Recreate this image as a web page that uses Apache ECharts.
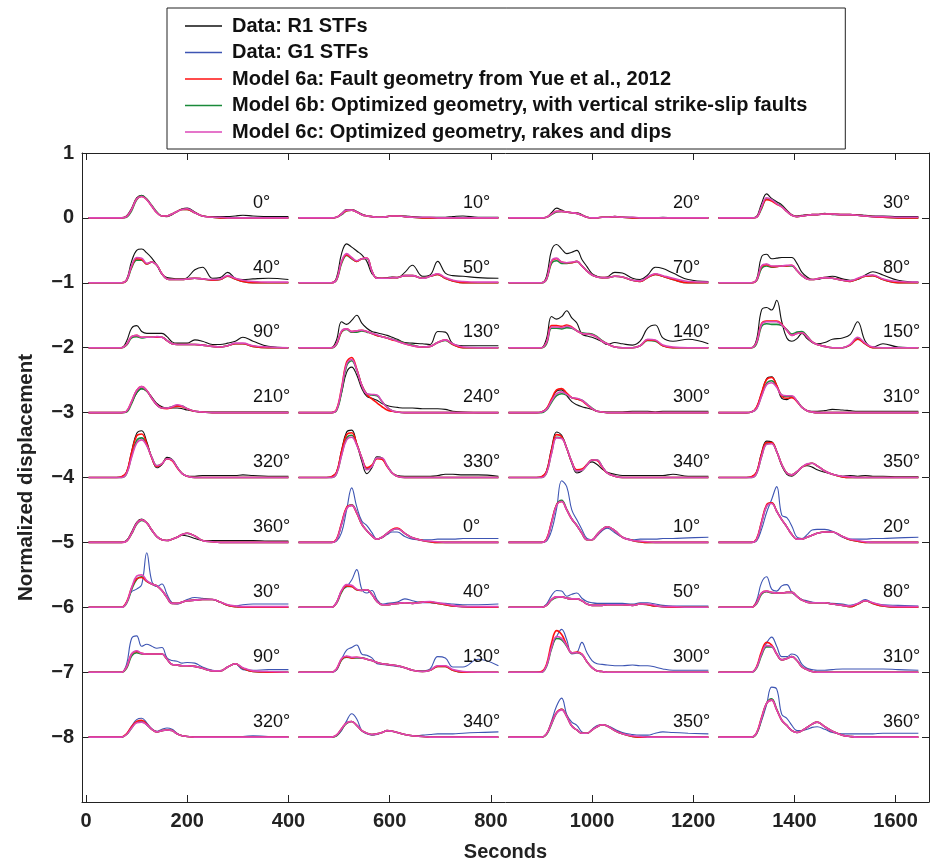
<!DOCTYPE html>
<html>
<head>
<meta charset="utf-8">
<title>STF comparison</title>
<script src="https://cdn.jsdelivr.net/npm/echarts@6.0.0/dist/echarts.min.js"></script>
<style>
  html, body { margin: 0; padding: 0; background: #fff; }
  #chart { width: 930px; height: 863px; }
</style>
</head>
<body>
<div id="chart"></div>
<script>
// relative time (s) inside each panel, shared by every trace
const seconds = [5, 60, 70, 80, 90, 100, 110, 120, 130, 140, 150, 160, 170, 180, 190, 200, 215, 230, 250, 265, 280, 295, 310, 330, 360, 400];
// panel offsets along the time axis and baselines for the rows
const colStart = [0, 415, 830, 1245];
const rowBase = [0, -1, -2, -3, -4, -5, -6, -7, -8];
const xTicks = [0, 200, 400, 600, 800, 1000, 1200, 1400, 1600];

// station azimuth of every panel, row by row
const azimuths = ['0°', '10°', '20°', '30°', '40°', '50°', '70°', '80°', '90°', '130°', '140°', '150°',
  '210°', '240°', '300°', '310°', '320°', '330°', '340°', '350°', '360°', '0°', '10°', '20°',
  '30°', '40°', '50°', '80°', '90°', '130°', '300°', '310°', '320°', '340°', '350°', '360°'];
// first 21 panels are R1 data, the rest are G1
const r1Count = 21;

// observed STFs (R1 then G1), one array per panel
const observed = [
  [0,0,0,0.03, 0.15,0.31,0.35,0.29,0.18,0.08,0.03,0.02,0.05,0.10,0.14,0.15, 0.09,0.03,0.02,0.02,0.02,0.03,0.04,0.03,0.02,0.02],
  [0,0,0,0.01, 0.07,0.13,0.13,0.10,0.06,0.03,0.02,0.01,0.01,0.02,0.03,0.03, 0.03,0.02,0.01,0.01,0.01,0.01,0.02,0.03,0.01,0.01],
  [0,0,0,0.01, 0.08,0.15,0.12,0.09,0.08,0.08,0.05,0.01,0,0,0.01,0.01, 0.02,0.01,0.01,0,0,0,0.01,0,0,0],
  [0,0,0,0.02, 0.22,0.37,0.30,0.25,0.20,0.12,0.05,0.03,0.04,0.05,0.05,0.05, 0.07,0.05,0.05,0.05,0.05,0.04,0.03,0.03,0.02,0.02],
  [0,0,0,0.05, 0.33,0.50,0.52,0.46,0.38,0.27,0.13,0.08,0.07,0.06,0.06,0.08, 0.20,0.24,0.07,0.08,0.16,0.07,0.05,0.06,0.07,0.05],
  [0,0,0,0.08, 0.45,0.60,0.55,0.49,0.43,0.33,0.14,0.08,0.07,0.08,0.09,0.08, 0.16,0.27,0.10,0.12,0.33,0.15,0.11,0.10,0.08,0.07],
  [0,0,0,0.10, 0.50,0.59,0.52,0.45,0.47,0.50,0.36,0.25,0.14,0.10,0.08,0.09, 0.16,0.15,0.07,0.05,0.12,0.24,0.22,0.15,0.05,0.02],
  [0,0,0,0.05, 0.40,0.44,0.37,0.38,0.39,0.39,0.39,0.30,0.16,0.09,0.05,0.05, 0.08,0.10,0.06,0.04,0.05,0.12,0.17,0.12,0.04,0.01],
  [0,0,0,0.10, 0.30,0.34,0.25,0.22,0.22,0.22,0.22,0.17,0.09,0.07,0.07,0.07, 0.12,0.10,0.05,0.05,0.07,0.10,0.16,0.10,0.02,0],
  [0,0,0,0.12, 0.40,0.36,0.42,0.50,0.38,0.30,0.25,0.23,0.21,0.19,0.16,0.13, 0.08,0.07,0.06,0.05,0.25,0.24,0.06,0.03,0.03,0.03],
  [0,0,0,0.14, 0.48,0.44,0.48,0.57,0.46,0.38,0.21,0.18,0.16,0.13,0.09,0.05, 0.08,0.06,0.04,0.10,0.30,0.35,0.15,0.10,0.13,0.06],
  [0,0,0,0.12, 0.58,0.62,0.58,0.73,0.40,0.15,0.10,0.14,0.22,0.14,0.08,0.06, 0.08,0.13,0.15,0.20,0.40,0.10,0.01,0.06,0.01,0],
  [0,0,0,0.02, 0.15,0.30,0.37,0.33,0.24,0.14,0.09,0.07,0.07,0.07,0.06,0.04, 0.02,0.01,0.01,0.01,0.01,0.01,0.01,0.01,0.01,0.01],
  [0,0,0,0.04, 0.30,0.62,0.70,0.58,0.37,0.25,0.22,0.19,0.14,0.11,0.09,0.08, 0.07,0.07,0.06,0.06,0.06,0.05,0.02,0.01,0,0],
  [0,0,0.01,0.06, 0.20,0.33,0.35,0.26,0.17,0.12,0.09,0.07,0.05,0.02,0.01,0.01, 0.01,0.01,0.02,0.02,0.02,0.01,0.02,0.02,0.02,0.02],
  [0,0,0.01,0.08, 0.30,0.52,0.55,0.42,0.22,0.20,0.24,0.18,0.08,0.03,0.02,0.02, 0.03,0.05,0.04,0.03,0.02,0.02,0.02,0.02,0.02,0.02],
  [0,0,0.01,0.08, 0.40,0.68,0.72,0.55,0.30,0.15,0.20,0.31,0.28,0.16,0.06,0.02, 0.02,0.03,0.03,0.03,0.03,0.03,0.04,0.03,0.02,0.02],
  [0,0,0.01,0.08, 0.42,0.70,0.73,0.52,0.25,0.06,0.15,0.32,0.30,0.18,0.07,0.03, 0.02,0.02,0.02,0.02,0.03,0.05,0.05,0.04,0.04,0.02],
  [0,0,0.01,0.10, 0.45,0.70,0.65,0.45,0.22,0.07,0.10,0.20,0.24,0.20,0.13,0.08, 0.05,0.03,0.03,0.03,0.03,0.03,0.03,0.05,0.02,0.02],
  [0,0,0.01,0.08, 0.38,0.56,0.55,0.40,0.18,0.05,0.02,0.08,0.16,0.18,0.16,0.12, 0.08,0.05,0.02,0.03,0.02,0.03,0.02,0.02,0.01,0.01],
  [0,0,0,0.03, 0.16,0.31,0.36,0.30,0.18,0.09,0.04,0.03,0.05,0.08,0.11,0.10, 0.06,0.03,0.03,0.03,0.03,0.03,0.03,0.03,0.02,0.02],
  [0,0,0,0.02, 0.15,0.50,0.84,0.55,0.33,0.26,0.15,0.05,0.07,0.12,0.16,0.16, 0.09,0.05,0.04,0.04,0.05,0.05,0.05,0.06,0.06,0.06],
  [0,0,0,0.02, 0.18,0.52,0.95,0.86,0.50,0.35,0.20,0.06,0.04,0.10,0.18,0.22, 0.15,0.08,0.04,0.05,0.05,0.05,0.06,0.06,0.07,0.08],
  [0,0,0,0.02, 0.20,0.46,0.66,0.86,0.42,0.38,0.25,0.08,0.06,0.12,0.19,0.20, 0.20,0.17,0.08,0.05,0.05,0.05,0.06,0.06,0.07,0.08],
  [0,0,0,0.08, 0.24,0.28,0.35,0.84,0.40,0.32,0.36,0.20,0.07,0.05,0.08,0.12, 0.15,0.14,0.12,0.08,0.03,0.02,0.04,0.05,0.05,0.05],
  [0,0,0,0.08, 0.26,0.32,0.42,0.58,0.28,0.22,0.26,0.12,0.05,0.06,0.07,0.08, 0.13,0.10,0.07,0.07,0.06,0.06,0.05,0.04,0.04,0.05],
  [0,0,0,0.05, 0.18,0.26,0.25,0.17,0.20,0.22,0.14,0.09,0.07,0.06,0.06,0.06, 0.06,0.06,0.05,0.07,0.07,0.05,0.03,0.02,0.02,0.02],
  [0,0,0,0.10, 0.38,0.47,0.28,0.25,0.33,0.35,0.23,0.17,0.12,0.10,0.08,0.07, 0.07,0.06,0.05,0.03,0.06,0.12,0.07,0.04,0.03,0.02],
  [0,0,0,0.12, 0.52,0.56,0.40,0.43,0.40,0.37,0.38,0.22,0.18,0.17,0.14,0.15, 0.14,0.08,0.03,0.02,0.08,0.13,0.04,0.03,0.04,0.04],
  [0,0,0,0.03, 0.20,0.34,0.38,0.42,0.28,0.26,0.22,0.13,0.12,0.11,0.10,0.09, 0.07,0.03,0.02,0.05,0.24,0.22,0.08,0.08,0.20,0.10],
  [0,0,0,0.10, 0.38,0.55,0.66,0.50,0.28,0.30,0.46,0.30,0.18,0.13,0.12,0.11, 0.10,0.10,0.11,0.10,0.10,0.08,0.05,0.03,0.03,0.03],
  [0,0,0,0.08, 0.30,0.45,0.54,0.40,0.24,0.24,0.28,0.25,0.12,0.06,0.04,0.03, 0.03,0.04,0.05,0.05,0.05,0.05,0.05,0.05,0.04,0.03],
  [0,0,0,0.05, 0.17,0.27,0.29,0.22,0.13,0.09,0.12,0.14,0.12,0.06,0.02,0.01, 0.01,0.01,0.01,0.01,0.01,0.01,0.01,0.02,0.01,0.01],
  [0,0,0,0.02, 0.10,0.25,0.36,0.28,0.10,0.05,0.03,0.04,0.07,0.10,0.09,0.07, 0.04,0.02,0.03,0.04,0.05,0.05,0.05,0.06,0.07,0.08],
  [0,0,0,0.05, 0.25,0.48,0.60,0.35,0.23,0.18,0.08,0.06,0.12,0.18,0.19,0.18, 0.12,0.07,0.04,0.03,0.03,0.06,0.08,0.07,0.06,0.05],
  [0,0,0,0.05, 0.25,0.50,0.77,0.74,0.35,0.29,0.18,0.10,0.10,0.12,0.15,0.16, 0.12,0.07,0.05,0.05,0.05,0.05,0.05,0.06,0.06,0.06]
];

// Model 6a: fault geometry from Yue et al., 2012
const model6a = [
  [0,0,0,0.02, 0.13,0.29,0.33,0.28,0.18,0.08,0.03,0.03,0.06,0.10,0.13,0.13, 0.08,0.03,0.01,0,0,0,0,0,0,0],
  [0,0,0,0.01, 0.06,0.11,0.12,0.09,0.05,0.03,0.02,0.01,0.01,0.02,0.03,0.03, 0.02,0.01,0,0,0,0,0,0,0,0],
  [0,0,0,0.01, 0.06,0.10,0.10,0.09,0.08,0.07,0.04,0.01,0,0,0.01,0.01, 0.02,0.01,0,0,0,0,0,0,0,0],
  [0,0,0,0.01, 0.16,0.28,0.26,0.21,0.17,0.10,0.04,0.02,0.03,0.04,0.05,0.05, 0.06,0.06,0.05,0.05,0.04,0.03,0.02,0.01,0,0],
  [0,0,0,0.04, 0.25,0.37,0.36,0.29,0.32,0.27,0.14,0.06,0.05,0.05,0.05,0.06, 0.07,0.06,0.04,0.05,0.10,0.06,0.02,0,0,0],
  [0,0,0,0.05, 0.32,0.43,0.38,0.33,0.37,0.38,0.18,0.07,0.07,0.07,0.08,0.08, 0.11,0.11,0.07,0.10,0.13,0.07,0.03,0,0,0],
  [0,0,0,0.06, 0.33,0.37,0.32,0.31,0.31,0.33,0.26,0.18,0.12,0.09,0.08,0.08, 0.10,0.09,0.04,0.02,0.08,0.13,0.10,0.05,0,0],
  [0,0,0,0.04, 0.25,0.28,0.25,0.25,0.26,0.26,0.27,0.19,0.11,0.06,0.05,0.06, 0.08,0.07,0.04,0.02,0.06,0.10,0.11,0.05,0,0],
  [0,0,0,0.05, 0.17,0.19,0.16,0.16,0.16,0.16,0.16,0.11,0.06,0.05,0.05,0.05, 0.05,0.04,0.02,0.01,0.03,0.06,0.06,0.02,0,0],
  [0,0,0,0.06, 0.25,0.29,0.25,0.26,0.27,0.25,0.22,0.19,0.17,0.15,0.12,0.10, 0.06,0.03,0.01,0.02,0.08,0.12,0.05,0,0,0],
  [0,0,0,0.08, 0.34,0.34,0.33,0.35,0.32,0.26,0.22,0.21,0.20,0.16,0.10,0.06, 0.01,0,0,0.03,0.12,0.11,0.03,0,0,0],
  [0,0,0,0.08, 0.37,0.41,0.41,0.41,0.36,0.27,0.19,0.22,0.23,0.17,0.09,0.05, 0.02,0,0,0.04,0.13,0.06,0,0,0,0],
  [0,0,0,0.02, 0.17,0.34,0.40,0.34,0.22,0.12,0.07,0.06,0.08,0.10,0.09,0.06, 0.02,0.01,0,0,0,0,0,0,0,0],
  [0,0,0,0.05, 0.38,0.78,0.85,0.67,0.42,0.28,0.21,0.15,0.09,0.04,0.02,0.01, 0,0,0,0,0,0,0,0,0,0],
  [0,0,0.01,0.06, 0.21,0.35,0.37,0.30,0.23,0.21,0.18,0.12,0.06,0.02,0.01,0, 0,0,0,0,0,0,0,0,0,0],
  [0,0,0.01,0.08, 0.30,0.51,0.54,0.42,0.25,0.22,0.23,0.17,0.08,0.03,0.01,0, 0,0,0,0,0,0,0,0,0,0],
  [0,0,0.01,0.08, 0.38,0.64,0.67,0.52,0.30,0.17,0.21,0.29,0.26,0.15,0.06,0.02, 0,0,0,0,0,0,0,0,0,0],
  [0,0,0.01,0.08, 0.40,0.66,0.69,0.52,0.30,0.15,0.19,0.29,0.28,0.17,0.07,0.02, 0,0,0,0,0,0,0,0,0,0],
  [0,0,0.01,0.09, 0.42,0.66,0.63,0.45,0.24,0.12,0.13,0.20,0.27,0.26,0.16,0.07, 0.02,0,0,0,0,0,0,0,0,0],
  [0,0,0.01,0.08, 0.36,0.54,0.54,0.40,0.20,0.07,0.04,0.09,0.16,0.20,0.22,0.18, 0.10,0.05,0.01,0,0,0,0,0,0,0],
  [0,0,0,0.02, 0.14,0.29,0.35,0.30,0.19,0.09,0.04,0.03,0.05,0.08,0.12,0.14, 0.10,0.03,0.01,0,0,0,0,0,0,0],
  [0,0,0,0.05, 0.30,0.54,0.57,0.45,0.28,0.18,0.10,0.05,0.08,0.14,0.20,0.22, 0.14,0.07,0.03,0.01,0,0,0,0,0,0],
  [0,0,0,0.05, 0.32,0.58,0.63,0.50,0.36,0.26,0.14,0.04,0.04,0.12,0.20,0.24, 0.18,0.08,0.03,0.01,0,0,0,0,0,0],
  [0,0,0,0.05, 0.32,0.58,0.61,0.48,0.35,0.24,0.12,0.05,0.05,0.08,0.11,0.14, 0.16,0.16,0.09,0.04,0.02,0,0,0,0,0],
  [0,0,0,0.08, 0.30,0.44,0.46,0.40,0.36,0.33,0.26,0.15,0.06,0.06,0.08,0.10, 0.11,0.12,0.12,0.08,0.03,0.01,0,0,0,0],
  [0,0,0,0.07, 0.25,0.33,0.32,0.27,0.26,0.27,0.20,0.09,0.04,0.04,0.05,0.06, 0.07,0.06,0.08,0.08,0.06,0.04,0.02,0.01,0,0],
  [0,0,0,0.03, 0.12,0.16,0.16,0.14,0.13,0.13,0.10,0.05,0.03,0.03,0.03,0.04, 0.04,0.04,0.03,0.05,0.04,0.02,0.01,0,0,0],
  [0,0,0,0.07, 0.22,0.25,0.23,0.22,0.22,0.23,0.23,0.17,0.11,0.08,0.07,0.07, 0.07,0.05,0.03,0.01,0.05,0.10,0.06,0.02,0,0],
  [0,0,0,0.08, 0.28,0.32,0.29,0.28,0.28,0.28,0.28,0.20,0.12,0.11,0.10,0.10, 0.09,0.06,0.02,0.02,0.08,0.13,0.06,0.01,0,0],
  [0,0,0,0.05, 0.20,0.24,0.22,0.23,0.22,0.20,0.18,0.15,0.13,0.12,0.11,0.10, 0.07,0.03,0.01,0.03,0.09,0.09,0.03,0,0,0],
  [0,0,0.01,0.12, 0.45,0.64,0.58,0.42,0.30,0.31,0.28,0.16,0.07,0.02,0.01,0, 0,0,0,0,0,0,0,0,0,0],
  [0,0,0,0.08, 0.32,0.46,0.42,0.28,0.19,0.21,0.24,0.18,0.08,0.04,0.01,0, 0,0,0,0,0,0,0,0,0,0],
  [0,0,0,0.05, 0.16,0.24,0.26,0.20,0.12,0.08,0.10,0.11,0.10,0.05,0.02,0.01, 0,0,0,0,0,0,0,0,0,0],
  [0,0,0,0.03, 0.13,0.22,0.24,0.18,0.10,0.06,0.04,0.05,0.07,0.10,0.09,0.07, 0.04,0.02,0.01,0,0,0,0,0,0,0],
  [0,0,0,0.05, 0.22,0.38,0.43,0.32,0.17,0.11,0.06,0.06,0.11,0.16,0.19,0.17, 0.10,0.05,0.01,0,0,0,0,0,0,0],
  [0,0,0,0.06, 0.30,0.52,0.57,0.42,0.26,0.18,0.10,0.07,0.10,0.15,0.20,0.23, 0.16,0.09,0.03,0.01,0,0,0,0,0,0]
];

// Model 6b: optimized geometry, vertical strike-slip faults
const model6b = [
  [0,0,0,0.01, 0.11,0.28,0.34,0.29,0.19,0.09,0.03,0.03,0.06,0.10,0.13,0.13, 0.08,0.03,0.01,0,0,0,0,0,0,0],
  [0,0,0,0.01, 0.05,0.11,0.12,0.09,0.05,0.03,0.02,0.01,0.01,0.02,0.03,0.03, 0.02,0.01,0,0,0,0,0,0,0,0],
  [0,0,0,0.01, 0.05,0.09,0.10,0.09,0.08,0.07,0.04,0.01,0,0,0.01,0.01, 0.02,0.01,0,0,0,0,0,0,0,0],
  [0,0,0,0.01, 0.14,0.29,0.28,0.22,0.18,0.10,0.04,0.02,0.03,0.04,0.05,0.05, 0.06,0.06,0.05,0.05,0.04,0.03,0.02,0.01,0,0],
  [0,0,0,0.03, 0.23,0.35,0.35,0.29,0.32,0.27,0.14,0.06,0.05,0.05,0.05,0.06, 0.07,0.06,0.04,0.05,0.10,0.06,0.02,0,0,0],
  [0,0,0,0.04, 0.30,0.42,0.37,0.33,0.37,0.37,0.18,0.07,0.07,0.07,0.08,0.08, 0.11,0.11,0.07,0.10,0.13,0.07,0.03,0,0,0],
  [0,0,0,0.05, 0.30,0.34,0.30,0.30,0.31,0.33,0.26,0.18,0.12,0.09,0.08,0.08, 0.10,0.09,0.04,0.02,0.08,0.13,0.10,0.05,0,0],
  [0,0,0,0.03, 0.22,0.26,0.24,0.25,0.26,0.26,0.26,0.19,0.11,0.06,0.05,0.06, 0.08,0.07,0.04,0.02,0.06,0.10,0.11,0.05,0,0],
  [0,0,0,0.04, 0.15,0.17,0.15,0.16,0.16,0.16,0.16,0.11,0.06,0.05,0.05,0.05, 0.05,0.04,0.02,0.01,0.03,0.06,0.06,0.02,0,0],
  [0,0,0,0.05, 0.24,0.28,0.24,0.24,0.26,0.24,0.22,0.19,0.17,0.15,0.13,0.11, 0.07,0.04,0.01,0.02,0.08,0.11,0.05,0,0,0],
  [0,0,0,0.06, 0.30,0.30,0.29,0.31,0.30,0.26,0.23,0.22,0.21,0.17,0.11,0.06, 0.01,0,0,0.03,0.11,0.10,0.03,0,0,0],
  [0,0,0,0.06, 0.33,0.37,0.36,0.36,0.34,0.28,0.21,0.24,0.25,0.18,0.09,0.05, 0.02,0,0,0.04,0.14,0.06,0,0,0,0],
  [0,0,0,0.01, 0.14,0.31,0.37,0.33,0.22,0.12,0.07,0.07,0.09,0.11,0.10,0.06, 0.02,0.01,0,0,0,0,0,0,0,0],
  [0,0,0,0.03, 0.32,0.72,0.80,0.66,0.42,0.29,0.27,0.26,0.17,0.08,0.03,0.01, 0,0,0,0,0,0,0,0,0,0],
  [0,0,0,0.04, 0.16,0.26,0.29,0.27,0.23,0.21,0.19,0.13,0.07,0.02,0.01,0, 0,0,0,0,0,0,0,0,0,0],
  [0,0,0.01,0.06, 0.26,0.45,0.49,0.40,0.27,0.25,0.25,0.18,0.08,0.03,0.01,0, 0,0,0,0,0,0,0,0,0,0],
  [0,0,0,0.06, 0.33,0.57,0.61,0.50,0.31,0.18,0.21,0.29,0.27,0.16,0.06,0.02, 0,0,0,0,0,0,0,0,0,0],
  [0,0,0,0.06, 0.35,0.61,0.65,0.51,0.30,0.13,0.18,0.30,0.29,0.18,0.07,0.02, 0,0,0,0,0,0,0,0,0,0],
  [0,0,0,0.07, 0.38,0.62,0.61,0.45,0.24,0.10,0.11,0.19,0.27,0.27,0.17,0.07, 0.02,0,0,0,0,0,0,0,0,0],
  [0,0,0,0.06, 0.32,0.52,0.53,0.40,0.20,0.07,0.04,0.09,0.16,0.20,0.22,0.18, 0.10,0.05,0.01,0,0,0,0,0,0,0],
  [0,0,0,0.02, 0.13,0.28,0.34,0.30,0.19,0.09,0.04,0.03,0.05,0.08,0.12,0.14, 0.10,0.03,0.01,0,0,0,0,0,0,0],
  [0,0,0,0.04, 0.28,0.53,0.58,0.46,0.28,0.18,0.10,0.05,0.08,0.14,0.19,0.21, 0.14,0.07,0.03,0.01,0,0,0,0,0,0],
  [0,0,0,0.04, 0.30,0.58,0.65,0.51,0.36,0.26,0.14,0.04,0.04,0.12,0.20,0.24, 0.18,0.08,0.03,0.01,0,0,0,0,0,0],
  [0,0,0,0.04, 0.30,0.56,0.61,0.48,0.35,0.24,0.12,0.05,0.05,0.08,0.11,0.14, 0.16,0.16,0.09,0.04,0.02,0,0,0,0,0],
  [0,0,0,0.06, 0.27,0.43,0.47,0.40,0.36,0.33,0.26,0.15,0.06,0.06,0.08,0.10, 0.11,0.12,0.12,0.08,0.03,0.01,0,0,0,0],
  [0,0,0,0.06, 0.23,0.32,0.32,0.27,0.26,0.27,0.20,0.09,0.04,0.04,0.05,0.06, 0.07,0.06,0.08,0.08,0.06,0.04,0.02,0.01,0,0],
  [0,0,0,0.03, 0.11,0.15,0.16,0.14,0.13,0.13,0.10,0.05,0.03,0.03,0.03,0.04, 0.04,0.04,0.03,0.05,0.04,0.02,0.01,0,0,0],
  [0,0,0,0.05, 0.20,0.24,0.22,0.22,0.22,0.23,0.23,0.17,0.11,0.08,0.07,0.07, 0.07,0.05,0.03,0.01,0.05,0.10,0.06,0.02,0,0],
  [0,0,0,0.06, 0.25,0.30,0.28,0.28,0.28,0.28,0.28,0.20,0.12,0.11,0.10,0.10, 0.09,0.06,0.02,0.02,0.08,0.13,0.06,0.01,0,0],
  [0,0,0,0.04, 0.19,0.23,0.22,0.22,0.22,0.20,0.18,0.15,0.13,0.12,0.11,0.10, 0.07,0.03,0.01,0.03,0.09,0.09,0.03,0,0,0],
  [0,0,0,0.09, 0.36,0.52,0.50,0.40,0.30,0.30,0.27,0.16,0.07,0.02,0.01,0, 0,0,0,0,0,0,0,0,0,0],
  [0,0,0,0.06, 0.26,0.39,0.39,0.28,0.19,0.21,0.24,0.18,0.08,0.04,0.01,0, 0,0,0,0,0,0,0,0,0,0],
  [0,0,0,0.04, 0.14,0.23,0.24,0.19,0.12,0.08,0.10,0.11,0.10,0.05,0.02,0.01, 0,0,0,0,0,0,0,0,0,0],
  [0,0,0,0.02, 0.12,0.21,0.24,0.18,0.10,0.06,0.04,0.05,0.07,0.10,0.09,0.07, 0.04,0.02,0.01,0,0,0,0,0,0,0],
  [0,0,0,0.04, 0.20,0.37,0.43,0.32,0.17,0.11,0.06,0.06,0.11,0.16,0.19,0.17, 0.10,0.05,0.01,0,0,0,0,0,0,0],
  [0,0,0,0.05, 0.28,0.52,0.59,0.43,0.26,0.18,0.10,0.07,0.10,0.15,0.20,0.23, 0.16,0.09,0.03,0.01,0,0,0,0,0,0]
];

// Model 6c: optimized geometry, rakes and dips
const model6c = [
  [0,0,0,0.02, 0.13,0.29,0.33,0.28,0.18,0.08,0.03,0.03,0.06,0.10,0.13,0.14, 0.08,0.03,0.01,0.01,0,0,0,0,0,0],
  [0,0,0,0.01, 0.06,0.12,0.12,0.09,0.05,0.03,0.02,0.01,0.01,0.02,0.03,0.03, 0.02,0.01,0.01,0.01,0,0,0,0,0,0],
  [0,0,0,0.01, 0.06,0.10,0.10,0.09,0.08,0.07,0.04,0.01,0,0,0.01,0.01, 0.02,0.01,0.01,0,0,0,0,0,0,0],
  [0,0,0,0.01, 0.17,0.31,0.28,0.22,0.17,0.10,0.04,0.02,0.03,0.04,0.05,0.05, 0.06,0.06,0.05,0.05,0.04,0.03,0.02,0.02,0.01,0.01],
  [0,0,0,0.04, 0.26,0.39,0.38,0.30,0.32,0.27,0.14,0.06,0.05,0.05,0.05,0.06, 0.07,0.06,0.05,0.06,0.11,0.07,0.04,0.02,0.01,0.01],
  [0,0,0,0.05, 0.33,0.45,0.39,0.34,0.37,0.38,0.18,0.07,0.07,0.07,0.08,0.08, 0.11,0.11,0.07,0.10,0.14,0.08,0.04,0.02,0.01,0.01],
  [0,0,0,0.06, 0.34,0.38,0.32,0.31,0.32,0.33,0.26,0.18,0.12,0.09,0.08,0.08, 0.10,0.09,0.04,0.03,0.09,0.14,0.11,0.07,0.02,0.01],
  [0,0,0,0.04, 0.26,0.29,0.26,0.26,0.26,0.27,0.27,0.19,0.11,0.06,0.05,0.06, 0.08,0.07,0.04,0.03,0.07,0.11,0.12,0.06,0.02,0.01],
  [0,0,0,0.05, 0.17,0.19,0.16,0.16,0.16,0.17,0.16,0.11,0.06,0.05,0.05,0.05, 0.05,0.04,0.02,0.01,0.03,0.07,0.07,0.03,0.01,0],
  [0,0,0,0.06, 0.26,0.29,0.25,0.26,0.27,0.25,0.22,0.20,0.17,0.15,0.13,0.10, 0.06,0.03,0.01,0.02,0.08,0.12,0.06,0.01,0,0],
  [0,0,0,0.08, 0.32,0.32,0.31,0.33,0.31,0.26,0.22,0.21,0.20,0.16,0.10,0.06, 0.01,0,0,0.03,0.13,0.12,0.04,0.01,0,0],
  [0,0,0,0.08, 0.36,0.40,0.40,0.40,0.35,0.27,0.19,0.22,0.23,0.17,0.09,0.05, 0.02,0,0,0.05,0.16,0.07,0.01,0,0,0],
  [0,0,0,0.02, 0.17,0.34,0.40,0.34,0.22,0.12,0.07,0.07,0.09,0.12,0.10,0.06, 0.02,0.01,0,0,0,0,0,0,0,0],
  [0,0,0,0.04, 0.36,0.75,0.82,0.66,0.42,0.29,0.28,0.27,0.17,0.08,0.03,0.01, 0,0,0,0,0,0,0,0,0,0],
  [0,0,0.01,0.05, 0.18,0.29,0.32,0.28,0.23,0.22,0.19,0.13,0.06,0.02,0.01,0, 0,0,0,0,0,0,0,0,0,0],
  [0,0,0.01,0.06, 0.25,0.43,0.46,0.39,0.27,0.26,0.26,0.18,0.08,0.03,0.01,0, 0,0,0,0,0,0,0,0,0,0],
  [0,0,0,0.06, 0.31,0.53,0.58,0.49,0.31,0.18,0.21,0.29,0.27,0.16,0.06,0.02, 0,0,0,0,0,0,0,0,0,0],
  [0,0,0,0.06, 0.34,0.58,0.62,0.50,0.30,0.12,0.17,0.30,0.30,0.18,0.07,0.02, 0,0,0,0,0,0,0,0,0,0],
  [0,0,0,0.07, 0.37,0.61,0.60,0.45,0.24,0.10,0.11,0.19,0.27,0.27,0.17,0.07, 0.02,0,0,0,0,0,0,0,0,0],
  [0,0,0,0.06, 0.32,0.51,0.52,0.40,0.20,0.07,0.04,0.09,0.16,0.21,0.22,0.18, 0.10,0.05,0.02,0.01,0,0,0,0,0,0],
  [0,0,0,0.02, 0.14,0.29,0.35,0.30,0.19,0.09,0.04,0.03,0.05,0.08,0.12,0.14, 0.10,0.03,0.01,0,0,0,0,0,0,0],
  [0,0,0,0.04, 0.28,0.52,0.57,0.46,0.28,0.18,0.10,0.05,0.08,0.14,0.19,0.21, 0.14,0.07,0.03,0.02,0.01,0,0,0,0,0],
  [0,0,0,0.04, 0.30,0.57,0.63,0.50,0.36,0.26,0.14,0.04,0.04,0.12,0.20,0.24, 0.18,0.08,0.03,0.02,0.01,0,0,0,0,0],
  [0,0,0,0.04, 0.30,0.56,0.60,0.48,0.35,0.24,0.12,0.05,0.05,0.08,0.11,0.14, 0.16,0.16,0.09,0.05,0.03,0.01,0,0,0,0],
  [0,0,0,0.07, 0.30,0.48,0.50,0.41,0.36,0.33,0.26,0.15,0.06,0.06,0.08,0.10, 0.11,0.12,0.12,0.08,0.04,0.02,0.01,0.01,0.01,0.01],
  [0,0,0,0.07, 0.26,0.35,0.34,0.28,0.26,0.27,0.20,0.09,0.04,0.04,0.05,0.06, 0.07,0.06,0.08,0.09,0.07,0.05,0.03,0.01,0.01,0.01],
  [0,0,0,0.03, 0.12,0.16,0.16,0.14,0.13,0.13,0.10,0.05,0.03,0.03,0.03,0.04, 0.04,0.04,0.03,0.05,0.05,0.03,0.01,0.01,0,0],
  [0,0,0,0.06, 0.22,0.25,0.23,0.22,0.22,0.23,0.23,0.17,0.11,0.08,0.07,0.07, 0.07,0.05,0.03,0.02,0.06,0.10,0.07,0.03,0.01,0.01],
  [0,0,0,0.08, 0.28,0.33,0.29,0.28,0.28,0.28,0.28,0.20,0.12,0.11,0.10,0.10, 0.09,0.06,0.02,0.02,0.08,0.13,0.07,0.02,0.01,0],
  [0,0,0,0.05, 0.21,0.25,0.23,0.23,0.22,0.20,0.18,0.15,0.13,0.12,0.11,0.10, 0.07,0.03,0.01,0.03,0.10,0.10,0.04,0.01,0,0],
  [0,0,0,0.10, 0.38,0.55,0.52,0.41,0.30,0.30,0.28,0.16,0.07,0.02,0.01,0, 0,0,0,0,0,0,0,0,0,0],
  [0,0,0,0.07, 0.28,0.41,0.40,0.28,0.19,0.21,0.24,0.18,0.08,0.04,0.01,0, 0,0,0,0,0,0,0,0,0,0],
  [0,0,0,0.04, 0.14,0.22,0.23,0.19,0.12,0.08,0.10,0.11,0.10,0.05,0.02,0.01, 0,0,0,0,0,0,0,0,0,0],
  [0,0,0,0.03, 0.13,0.22,0.24,0.18,0.10,0.06,0.04,0.05,0.07,0.10,0.09,0.07, 0.04,0.02,0.01,0,0,0,0,0,0,0],
  [0,0,0,0.05, 0.21,0.37,0.42,0.32,0.17,0.11,0.06,0.06,0.11,0.16,0.19,0.17, 0.10,0.05,0.02,0.01,0,0,0,0,0,0],
  [0,0,0,0.06, 0.29,0.52,0.57,0.42,0.26,0.18,0.10,0.07,0.10,0.15,0.20,0.23, 0.16,0.09,0.03,0.01,0,0,0,0,0,0]
];

const NAME_R1 = 'Data: R1 STFs';
const NAME_G1 = 'Data: G1 STFs';
const NAME_6A = 'Model 6a: Fault geometry from Yue et al., 2012';
const NAME_6B = 'Model 6b: Optimized geometry, with vertical strike-slip faults';
const NAME_6C = 'Model 6c: Optimized geometry, rakes and dips';

const FONT = '"Liberation Sans", Arial, Helvetica, sans-serif';

function toPoints(values, col, base) {
  return seconds.map((t, i) => [colStart[col] + t, base + values[i]]);
}

function lineSeries(name, color, width, points) {
  return {
    name: name,
    type: 'line',
    data: points,
    showSymbol: false,
    symbol: 'none',
    smooth: 0.4,
    silent: true,
    itemStyle: { color: color },
    lineStyle: { color: color, width: width }
  };
}

let series = [];
let labelData = [];
for (let p = 0; p < observed.length; p++) {
  let row = Math.floor(p / 4);
  let col = p % 4;
  let base = rowBase[row];
  let isR1 = p < r1Count;
  series.push(lineSeries(isR1 ? NAME_R1 : NAME_G1, isR1 ? '#111111' : '#3d55b3', 1.1, toPoints(observed[p], col, base)));
  series.push(lineSeries(NAME_6B, '#1a8a3a', 1.6, toPoints(model6b[p], col, base)));
  series.push(lineSeries(NAME_6A, '#ff1010', 1.6, toPoints(model6a[p], col, base)));
  series.push(lineSeries(NAME_6C, '#dc47b8', 1.6, toPoints(model6c[p], col, base)));
  labelData.push({ name: azimuths[p], value: [colStart[col] + 330, base + 0.235] });
}

// azimuth labels inside each panel
series.push({
  type: 'scatter',
  data: labelData,
  symbolSize: 0,
  silent: true,
  z: 5,
  label: {
    show: true,
    position: 'right',
    distance: 0,
    formatter: '{b}',
    fontFamily: FONT,
    fontSize: 18,
    fontWeight: 'normal',
    color: '#111',
    opacity: 1
  }
});

const axisLineStyle = { color: '#222', width: 1 };

const option = {
  animation: false,
  backgroundColor: '#fff',
  grid: { left: 82, right: 1, top: 153, bottom: 61, outerBoundsMode: 'none' },
  legend: {
    data: [NAME_R1, NAME_G1, NAME_6A, NAME_6B, NAME_6C],
    orient: 'vertical',
    left: 167,
    top: 8,
    icon: 'rect',
    itemWidth: 37,
    itemHeight: 1.5,
    itemGap: 6.5,
    padding: [8, 38, 7, 18],
    borderColor: '#222',
    borderWidth: 1,
    backgroundColor: '#fff',
    selectedMode: false,
    textStyle: {
      fontFamily: FONT,
      fontSize: 20,
      fontWeight: 'bold',
      lineHeight: 19,
      color: '#111',
      padding: [0, 0, 0, 5]
    }
  },
  xAxis: [
    {
      type: 'value',
      min: -8,
      max: 1666,
      position: 'bottom',
      name: 'Seconds',
      nameLocation: 'middle',
      nameGap: 40,
      nameTextStyle: { fontFamily: FONT, fontSize: 20, fontWeight: 'bold', color: '#222' },
      axisLine: { onZero: false, lineStyle: axisLineStyle },
      axisTick: { inside: true, length: 7, customValues: xTicks, lineStyle: axisLineStyle },
      axisLabel: {
        customValues: xTicks,
        margin: 9,
        fontFamily: FONT,
        fontSize: 20,
        fontWeight: 'bold',
        color: '#222',
        formatter: v => String(v)
      },
      splitLine: { show: false }
    },
    {
      type: 'value',
      min: -8,
      max: 1666,
      position: 'top',
      axisLine: { onZero: false, lineStyle: axisLineStyle },
      axisTick: { inside: true, length: 7, customValues: xTicks, lineStyle: axisLineStyle },
      axisLabel: { show: false },
      splitLine: { show: false }
    }
  ],
  yAxis: [
    {
      type: 'value',
      min: -9,
      max: 1,
      interval: 1,
      position: 'left',
      name: 'Normalized displacement',
      nameLocation: 'middle',
      nameGap: 45,
      nameTextStyle: { fontFamily: FONT, fontSize: 20.5, fontWeight: 'bold', color: '#222' },
      axisLine: { onZero: false, lineStyle: axisLineStyle },
      axisTick: { inside: true, length: 7, lineStyle: axisLineStyle },
      axisLabel: {
        margin: 8,
        fontFamily: FONT,
        fontSize: 20,
        fontWeight: 'bold',
        color: '#222',
        formatter: v => (v === -9 ? '' : v < 0 ? '\u2212' + (-v) : String(v))
      },
      splitLine: { show: false }
    },
    {
      type: 'value',
      min: -9,
      max: 1,
      interval: 1,
      position: 'right',
      axisLine: { onZero: false, lineStyle: axisLineStyle },
      axisTick: { inside: true, length: 7, lineStyle: axisLineStyle },
      axisLabel: { show: false },
      splitLine: { show: false }
    }
  ],
  series: series
};

const chart = echarts.init(document.getElementById('chart'), null, { renderer: 'canvas' });
chart.setOption(option);
window.onresize = () => {
  chart.resize();
};
</script>
</body>
</html>
